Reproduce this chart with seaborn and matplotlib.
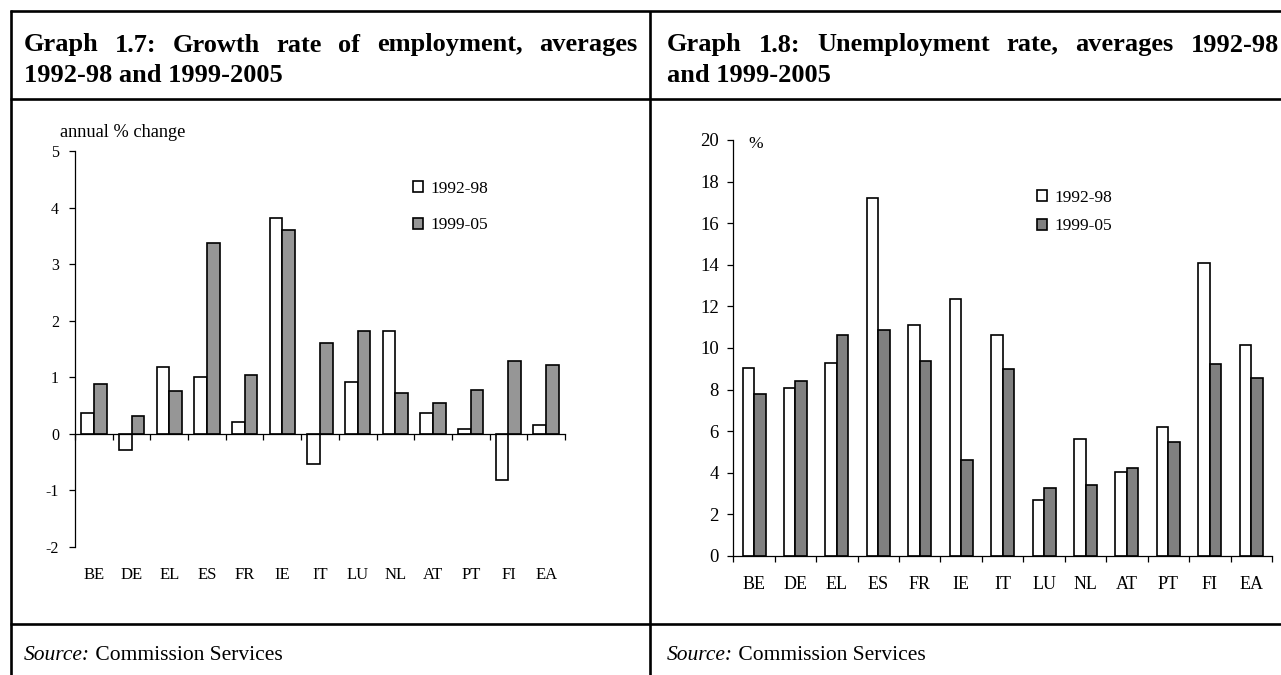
import numpy as np
import pandas as pd
import matplotlib
matplotlib.use("Agg")
import matplotlib.pyplot as plt
import seaborn as sns
from matplotlib.lines import Line2D
from matplotlib.patches import Patch

# ---------------- data ----------------
countries = ["BE", "DE", "EL", "ES", "FR", "IE", "IT", "LU", "NL", "AT", "PT", "FI", "EA"]
periods = ["1992-98", "1999-05"]
emp_9298 = [0.36, -0.29, 1.18, 1.00, 0.21, 3.82, -0.54, 0.91, 1.81, 0.36, 0.08, -0.82, 0.16]
emp_9905 = [0.88, 0.31, 0.75, 3.38, 1.03, 3.61, 1.60, 1.81, 0.72, 0.54, 0.78, 1.29, 1.21]
unemp_9298 = [9.04, 8.09, 9.29, 17.20, 11.10, 12.36, 10.64, 2.69, 5.64, 4.05, 6.20, 14.10, 10.14]
unemp_9905 = [7.77, 8.41, 10.64, 10.87, 9.37, 4.62, 8.97, 3.25, 3.43, 4.23, 5.48, 9.21, 8.57]
left_yticks = [-2, -1, 0, 1, 2, 3, 4, 5]
right_yticks = [0, 2, 4, 6, 8, 10, 12, 14, 16, 18, 20]
title_left_1 = "Graph 1.7: Growth rate of employment, averages"
title_left_2 = "1992-98 and 1999-2005"
title_right_1 = "Graph 1.8: Unemployment rate, averages 1992-98"
title_right_2 = "and 1999-2005"

# ---------------- style ----------------
sns.set_theme(style="ticks")
plt.rcParams["font.family"] = ["Liberation Serif", "DejaVu Serif"]
for k in ["text.color", "axes.labelcolor", "xtick.color", "ytick.color", "axes.edgecolor"]:
    plt.rcParams[k] = "black"

W, H = 1281, 675
fig = plt.figure(figsize=(W / 100, H / 100), dpi=100)
fig.patch.set_facecolor("white")


def fx(x):
    return x / W


def fy(y):
    return 1 - y / H


# frame lines
frame_kw = dict(color="black", lw=1.9, transform=fig.transFigure, solid_capstyle="butt")
for (x0, y0, x1, y1) in [(9.5, 10.7, W, 10.7), (10.7, 9.5, 10.7, H), (650, 10.7, 650, H),
                         (9.5, 98.8, W, 98.8), (9.5, 624, W, 624)]:
    fig.add_artist(Line2D([fx(x0), fx(x1)], [fy(y0), fy(y1)], **frame_kw))

renderer = fig.canvas.get_renderer()


def justified(text, x0, x1, y, **kw):
    words = text.split(" ")
    objs = [fig.text(0, fy(y), w, va="baseline", ha="left", **kw) for w in words]
    widths = [o.get_window_extent(renderer).width for o in objs]
    gap = (x1 - x0 - sum(widths)) / (len(words) - 1)
    x = x0
    for o, w in zip(objs, widths):
        o.set_x(fx(x))
        x += w + gap


tkw = dict(fontsize=19, fontweight="bold")
justified(title_left_1, 24, 637, 51.5, **tkw)
fig.text(fx(24), fy(81.5), title_left_2, va="baseline", ha="left", **tkw)
justified(title_right_1, 667, 1279, 51.5, **tkw)
fig.text(fx(667), fy(81.5), title_right_2, va="baseline", ha="left", **tkw)


def source(x0, y):
    t1 = fig.text(fx(x0), fy(y), "Source:", style="italic", fontsize=15.5, va="baseline")
    w = t1.get_window_extent(renderer).width
    fig.text(fx(x0 + w), fy(y), " Commission Services", fontsize=15.5, va="baseline")


source(24, 660)
source(667, 660)


def draw(ax, v1, v2, color2, width, ylim, yticks, xpad, xsize, ysize, ypad):
    df = pd.DataFrame({
        "country": countries * 2,
        "period": [periods[0]] * len(countries) + [periods[1]] * len(countries),
        "value": list(v1) + list(v2),
    })
    sns.barplot(data=df, x="country", y="value", hue="period", order=countries,
                hue_order=periods, palette=["white", color2], saturation=1,
                width=width, edgecolor="black", linewidth=1.2, legend=False,
                errorbar=None, ax=ax)
    ax.set_xlim(-0.5, len(countries) - 0.5)
    ax.set_ylim(*ylim)
    ax.set_yticks(yticks)
    ax.set_yticklabels([str(t) for t in yticks])
    ax.set_xticks(range(len(countries)))
    ax.set_xticklabels(countries)
    ax.set_xticks(np.arange(-0.5, len(countries), 1), minor=True)
    ax.tick_params(axis="x", which="major", length=0, pad=xpad, labelsize=xsize)
    ax.tick_params(axis="x", which="minor", length=4.5, width=0.9, direction="out")
    ax.tick_params(axis="y", length=4, width=0.9, pad=ypad, labelsize=ysize, direction="out")
    ax.set_xlabel("")
    ax.set_ylabel("")
    for s in ["top", "right"]:
        ax.spines[s].set_visible(False)
    for s in ["left", "bottom"]:
        ax.spines[s].set_linewidth(0.9)
    ax.set_facecolor("white")
    handles = [Patch(facecolor="white", edgecolor="black", linewidth=1.2, label=periods[0]),
               Patch(facecolor=color2, edgecolor="black", linewidth=1.2, label=periods[1])]
    return handles


axL = fig.add_axes([fx(75), fy(546.7), (565 - 75) / W, (546.7 - 151) / H])
hL = draw(axL, emp_9298, emp_9905, "#969696", 0.674, (-2, 5), left_yticks, 96, 12, 11.5, 7.5)
axL.spines["bottom"].set_position(("data", 0))
axL.legend(handles=hL, loc="upper left", bbox_to_anchor=(fx(413), fy(181)),
           bbox_transform=fig.transFigure, frameon=False, fontsize=12.5,
           handlelength=0.6, handleheight=0.6, handletextpad=0.4,
           labelspacing=1.16, borderpad=0, borderaxespad=0)
fig.text(fx(60), fy(137), "annual % change", fontsize=13.2, va="baseline", ha="left")

axR = fig.add_axes([fx(733.3), fy(556), (1272 - 733.3) / W, (556 - 140) / H])
hR = draw(axR, unemp_9298, unemp_9905, "#808080", 0.555, (0, 20), right_yticks, 14.5, 13, 13.5, 6.5)
axR.legend(handles=hR, loc="upper left", bbox_to_anchor=(fx(1036.7), fy(190)),
           bbox_transform=fig.transFigure, frameon=False, fontsize=12.5,
           handlelength=0.6, handleheight=0.6, handletextpad=0.4,
           labelspacing=0.72, borderpad=0, borderaxespad=0)
fig.text(fx(748), fy(144.5), "%", fontsize=12.5, va="center", ha="left")

fig.savefig("out.png", dpi=100, facecolor="white")
